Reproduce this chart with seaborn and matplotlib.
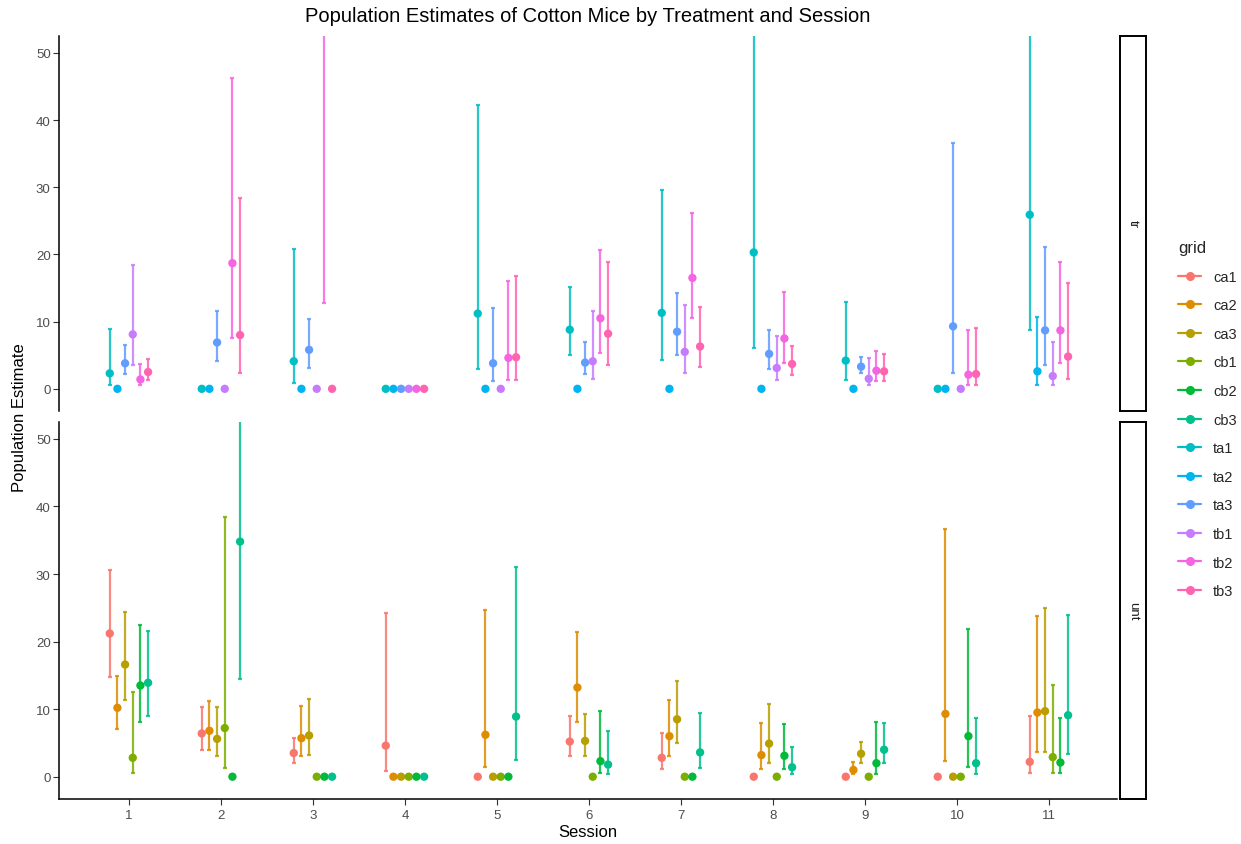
import numpy as np
import pandas as pd
import matplotlib
matplotlib.use("Agg")
import matplotlib.pyplot as plt
import seaborn as sns
from matplotlib.lines import Line2D

sns.set_theme(style="white")
plt.rcParams["font.family"] = ["Liberation Sans", "DejaVu Sans"]

nan = np.nan
sessions = list(range(1, 12))

treated_grids = ["ta1", "ta2", "ta3", "tb1", "tb2", "tb3"]
control_grids = ["ca1", "ca2", "ca3", "cb1", "cb2", "cb3"]
grid_order = control_grids + treated_grids
grid_colors = ["#F8766D", "#DE8C00", "#B79F00", "#7CAE00", "#00BA38", "#00C08B",
               "#00BFC4", "#00B4F0", "#619CFF", "#C77CFF", "#F564E3", "#FF64B0"]

# treated grids ("tr"): estimate, lower and upper confidence limits per session
est_ta1 = [2.3, 0, 4.1, 0, 11.2, 8.8, 11.3, 20.3, 4.2, 0, 25.9]
lo_ta1 = [0.6, nan, 0.8, nan, 3.0, 5.1, 4.3, 6.1, 1.3, nan, 8.7]
hi_ta1 = [8.9, nan, 20.8, nan, 42.2, 15.2, 29.6, 60.0, 12.9, nan, 60.0]

est_ta2 = [0, 0, 0, 0, 0, 0, 0, 0, 0, 0, 2.6]
lo_ta2 = [nan, nan, nan, nan, nan, nan, nan, nan, nan, nan, 0.6]
hi_ta2 = [nan, nan, nan, nan, nan, nan, nan, nan, nan, nan, 10.7]

est_ta3 = [3.8, 6.9, 5.8, 0, 3.8, 3.9, 8.5, 5.2, 3.3, 9.3, 8.7]
lo_ta3 = [2.2, 4.1, 3.1, nan, 1.2, 2.2, 5.1, 3.0, 2.3, 2.4, 3.6]
hi_ta3 = [6.5, 11.6, 10.4, nan, 12.1, 6.9, 14.3, 8.8, 4.8, 36.6, 21.1]

est_tb1 = [8.1, 0, 0, 0, 0, 4.1, 5.5, 3.1, 1.5, 0, 1.9]
lo_tb1 = [3.6, nan, nan, nan, nan, 1.4, 2.4, 1.3, 0.5, nan, 0.5]
hi_tb1 = [18.4, nan, nan, nan, nan, 11.6, 12.4, 7.8, 4.6, nan, 6.9]

est_tb2 = [1.4, 18.7, 58.0, 0, 4.6, 10.5, 16.5, 7.5, 2.7, 2.1, 8.7]
lo_tb2 = [0.5, 7.5, 12.7, nan, 1.3, 5.4, 10.5, 3.9, 1.2, 0.5, 3.9]
hi_tb2 = [3.7, 46.3, 190.0, nan, 16.1, 20.6, 26.2, 14.4, 5.7, 8.7, 18.9]

est_tb3 = [2.5, 8.0, 0, 0, 4.7, 8.2, 6.3, 3.7, 2.6, 2.2, 4.8]
lo_tb3 = [1.3, 2.3, nan, nan, 1.3, 3.6, 3.2, 2.1, 1.2, 0.5, 1.5]
hi_tb3 = [4.5, 28.4, nan, nan, 16.8, 18.9, 12.2, 6.4, 5.2, 9.1, 15.8]

# untreated grids ("unt")
est_ca1 = [21.2, 6.4, 3.5, 4.6, 0, 5.2, 2.8, 0, 0, 0, 2.2]
lo_ca1 = [14.7, 4.0, 2.1, 0.8, nan, 3.0, 1.2, nan, nan, nan, 0.5]
hi_ca1 = [30.6, 10.3, 5.8, 24.2, nan, 9.0, 6.4, nan, nan, nan, 9.0]

est_ca2 = [10.2, 6.8, 5.7, 0, 6.2, 13.2, 6.0, 3.2, 1.0, 9.3, 9.5]
lo_ca2 = [7.0, 4.0, 3.0, nan, 1.5, 8.1, 3.1, 1.2, 0.4, 2.3, 3.7]
hi_ca2 = [14.9, 11.2, 10.4, nan, 24.7, 21.4, 11.3, 7.9, 2.2, 36.7, 23.8]

est_ca3 = [16.6, 5.6, 6.1, 0, 0, 5.3, 8.5, 4.9, 3.4, 0, 9.7]
lo_ca3 = [11.3, 3.1, 3.2, nan, nan, 3.0, 5.0, 2.1, 2.1, nan, 3.7]
hi_ca3 = [24.4, 10.3, 11.5, nan, nan, 9.3, 14.2, 10.8, 5.2, nan, 24.9]

est_cb1 = [2.8, 7.2, 0, 0, 0, 0, 0, 0, 0, 0, 2.9]
lo_cb1 = [0.6, 1.3, nan, nan, nan, nan, nan, nan, nan, nan, 0.5]
hi_cb1 = [12.5, 38.4, nan, nan, nan, nan, nan, nan, nan, nan, 13.6]

est_cb2 = [13.5, 0, 0, 0, 0, 2.3, 0, 3.1, 2.0, 6.0, 2.1]
lo_cb2 = [8.1, nan, nan, nan, nan, 0.5, nan, 1.1, 0.4, 1.5, 0.5]
hi_cb2 = [22.4, nan, nan, nan, nan, 9.7, nan, 7.8, 8.1, 21.9, 8.7]

est_cb3 = [13.9, 34.8, 0, 0, 8.9, 1.8, 3.6, 1.4, 4.0, 2.0, 9.1]
lo_cb3 = [9.0, 14.4, nan, nan, 2.5, 0.4, 1.3, 0.4, 2.0, 0.4, 3.4]
hi_cb3 = [21.6, 60.0, nan, nan, 31.1, 6.8, 9.4, 4.4, 8.0, 8.7, 23.9]

series = {
    "ta1": (est_ta1, lo_ta1, hi_ta1), "ta2": (est_ta2, lo_ta2, hi_ta2),
    "ta3": (est_ta3, lo_ta3, hi_ta3), "tb1": (est_tb1, lo_tb1, hi_tb1),
    "tb2": (est_tb2, lo_tb2, hi_tb2), "tb3": (est_tb3, lo_tb3, hi_tb3),
    "ca1": (est_ca1, lo_ca1, hi_ca1), "ca2": (est_ca2, lo_ca2, hi_ca2),
    "ca3": (est_ca3, lo_ca3, hi_ca3), "cb1": (est_cb1, lo_cb1, hi_cb1),
    "cb2": (est_cb2, lo_cb2, hi_cb2), "cb3": (est_cb3, lo_cb3, hi_cb3),
}

rows = []
for trt, grids in (("tr", treated_grids), ("unt", control_grids)):
    for gi, g in enumerate(grids):
        est, lo, hi = series[g]
        for s, e, l, h in zip(sessions, est, lo, hi):
            rows.append(dict(treatment=trt, grid=g, slot=gi, session=s,
                             estimate=e, lower=l, upper=h))
df = pd.DataFrame(rows)

# dodge the six grids of each panel across a width of 0.5
dodge_width = 0.5
n_slots = 6
df["x"] = df["session"] + (df["slot"] - (n_slots - 1) / 2) * dodge_width / n_slots

palette = dict(zip(grid_order, grid_colors))

W, H = 1241, 845
fig = plt.figure(figsize=(W / 100, H / 100), dpi=100)

panel_left, panel_right = 59, 1117
panels = [("tr", 37, 412), ("unt", 423, 800)]
tick_color = "#4D4D4D"

axes = []
for trt, top, bottom in panels:
    ax = fig.add_axes([panel_left / W, 1 - bottom / H,
                       (panel_right - panel_left) / W, (bottom - top) / H])
    sub = df[df["treatment"] == trt]
    for g in sub["grid"].unique():
        gd = sub[(sub["grid"] == g) & sub["lower"].notna()]
        ax.errorbar(gd["x"], gd["estimate"],
                    yerr=[gd["estimate"] - gd["lower"], gd["upper"] - gd["estimate"]],
                    fmt="none", ecolor=palette[g], elinewidth=1.6, capsize=1.2,
                    capthick=1.6, alpha=0.85, zorder=2)
    sns.scatterplot(data=sub, x="x", y="estimate", hue="grid", palette=palette,
                    s=36, edgecolor="none", linewidth=0, legend=False, ax=ax,
                    zorder=3)
    ax.set_xlim(0.24, 11.74)
    ax.set_ylim(-3.3, 52.5)
    ax.set_yticks([0, 10, 20, 30, 40, 50])
    ax.set_xlabel("")
    ax.set_ylabel("")
    for side in ("top", "right"):
        ax.spines[side].set_visible(False)
    ax.spines["left"].set_color("black")
    ax.spines["left"].set_linewidth(1.1)
    ax.tick_params(axis="y", length=4, width=0.8, color="#333333",
                   labelcolor=tick_color, labelsize=9.5, pad=2, left=True)
    ax.set_facecolor("white")

    # facet strip on the right
    strip = fig.add_axes([1120 / W, 1 - bottom / H, 26 / W, (bottom - top) / H])
    strip.set_xticks([])
    strip.set_yticks([])
    for sp in strip.spines.values():
        sp.set_color("black")
        sp.set_linewidth(1.4)
    strip.set_facecolor("white")
    strip.text(0.5, 0.5, trt, rotation=270, ha="center", va="center",
               fontsize=9.5, color="#1A1A1A", transform=strip.transAxes)
    axes.append(ax)

ax_top, ax_bot = axes
ax_top.spines["bottom"].set_visible(False)
ax_top.set_xticks([])
ax_bot.spines["bottom"].set_color("black")
ax_bot.spines["bottom"].set_linewidth(1.1)
ax_bot.set_xticks(sessions)
ax_bot.set_xticklabels([str(s) for s in sessions])
ax_bot.tick_params(axis="x", length=4, width=0.8, color="#333333",
                   labelcolor=tick_color, labelsize=9.5, pad=3, bottom=True)

fig.text(588 / W, 1 - 833 / H, "Session", ha="center", va="center",
         fontsize=12, color="black")
fig.text(20 / W, 1 - 418 / H, "Population Estimate", ha="center", va="center",
         rotation=90, fontsize=12, color="black")
fig.text(588 / W, 1 - 17 / H,
         "Population Estimates of Cotton Mice by Treatment and Session",
         ha="center", va="center", fontsize=14.5, color="black")

handles = [Line2D([0], [0], color=palette[g], marker="o", markersize=5.5,
                  linewidth=1.6, label=g) for g in grid_order]
leg = fig.legend(handles=handles, title="grid", loc="upper left",
                 bbox_to_anchor=(1165 / W, 1 - 228 / H), frameon=False,
                 fontsize=10.5, title_fontsize=12, handlelength=1.6,
                 labelspacing=1.0, handletextpad=0.8, alignment="left")

fig.savefig("out.png", dpi=100, facecolor="white")
